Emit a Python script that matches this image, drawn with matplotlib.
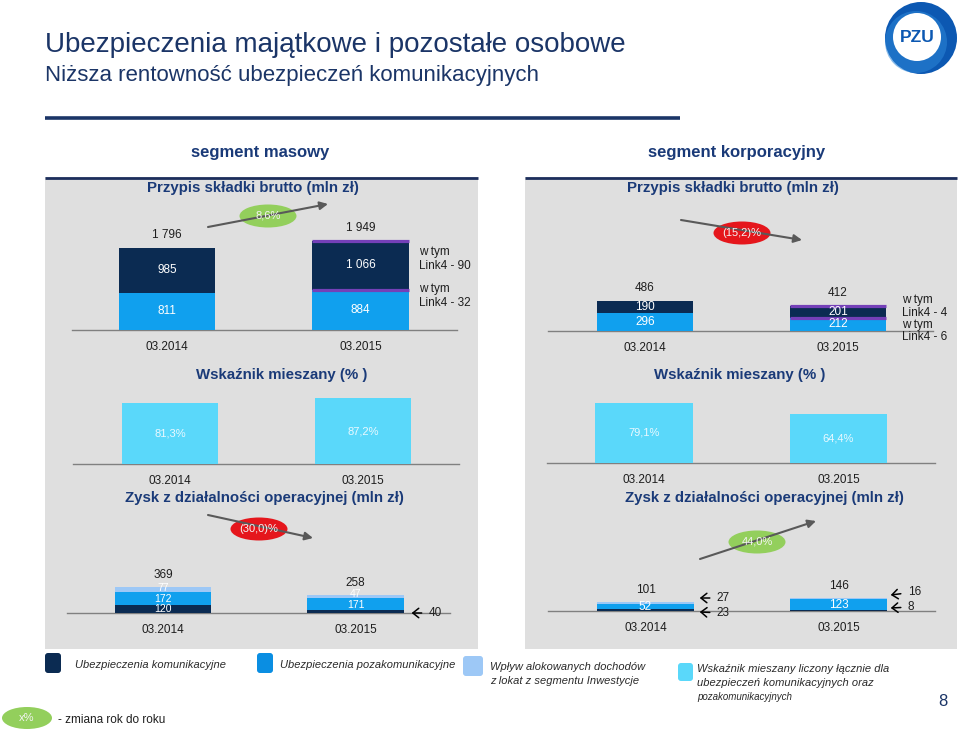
import numpy as np
import matplotlib
matplotlib.use('Agg')
from matplotlib import pyplot as plt
from matplotlib.patches import Rectangle, Ellipse, Circle, FancyBboxPatch

plt.rcParams['font.family'] = ['Liberation Sans', 'DejaVu Sans']

W, H = 960, 732

# ---- data (mln zł / %) ----
okresy = ['03.2014', '03.2015']

mas_przypis_kom = [985, 1066]
mas_przypis_poza = [811, 884]
mas_przypis_suma = [1796, 1949]
mas_link4 = [90, 32]            # 03.2015: komunikacyjne, pozakomunikacyjne
mas_wskaznik = [81.3, 87.2]
mas_zysk_kom = [120, 40]
mas_zysk_poza = [172, 171]
mas_zysk_lokaty = [77, 47]
mas_zysk_suma = [369, 258]

kor_przypis_kom = [190, 201]
kor_przypis_poza = [296, 212]
kor_przypis_suma = [486, 412]
kor_link4 = [4, 6]
kor_wskaznik = [79.1, 64.4]
kor_zysk_kom = [23, 8]
kor_zysk_poza = [52, 123]
kor_zysk_lokaty = [27, 16]
kor_zysk_suma = [101, 146]

# zmiana r/r: przypis masowy, przypis korporacyjny, zysk masowy, zysk korporacyjny
zmiany = ['8,6%', '(15,2)%', '(30,0)%', '44,0%']

# ---- colours ----
C_KOM = '#0B2B52'
C_POZA = '#10A0EE'
C_LOK = '#9DC8F6'
C_WSK = '#5AD8FA'
C_LINK = '#7440B8'
C_PANEL = '#DFDFDF'
C_NAVY = '#1B3567'
C_HEAD = '#1A3A78'
C_TXT = '#1E1E1E'
C_BASE = '#808080'
C_GREEN = '#93CF5C'
C_RED = '#E5161C'

BAR_W = 0.5


def num(v):
    return f"{v:,}".replace(',', ' ')


def pct(v):
    return f"{v:.1f}%".replace('.', ',')


fig = plt.figure(figsize=(9.6, 7.32), dpi=100)

# background / decoration layer in pixel coordinates
bg = fig.add_axes([0, 0, 1, 1])
bg.set_xlim(0, W)
bg.set_ylim(H, 0)
bg.axis('off')

bg.text(45, 45, 'Ubezpieczenia majątkowe i pozostałe osobowe', fontsize=20,
        color=C_NAVY, va='center', ha='left')
bg.text(45, 76, 'Niższa rentowność ubezpieczeń komunikacyjnych', fontsize=16,
        color=C_NAVY, va='center', ha='left')
bg.plot([45, 680], [118, 118], color=C_NAVY, lw=2.6, solid_capstyle='butt')

# logo
bg.add_patch(Circle((921, 38), 36, fc='#0C58B2', ec='none'))
bg.add_patch(Circle((916, 42), 31, fc='#2C86D8', ec='none', alpha=0.55))
bg.add_patch(Circle((917, 37), 24, fc='white', ec='none'))
bg.text(917, 38, 'PZU', fontsize=12.5, fontweight='bold', color='#0C58B2',
        ha='center', va='center')

# panels
for x0, x1, cx, name in [(45, 478, 260, 'segment masowy'),
                         (525, 957, 737, 'segment korporacyjny')]:
    bg.add_patch(Rectangle((x0, 177), x1 - x0, 472, fc=C_PANEL, ec='none'))
    bg.plot([x0, x1], [177.5, 177.5], color='#1C2E5C', lw=2, solid_capstyle='butt')
    bg.text(cx, 153, name, fontsize=12, fontweight='bold', color=C_HEAD,
            ha='center', va='center')

titles = [(253, 188, 'Przypis składki brutto (mln zł)'),
          (733, 188, 'Przypis składki brutto (mln zł)'),
          (282, 375, 'Wskaźnik mieszany (% )'),
          (740, 375, 'Wskaźnik mieszany (% )'),
          (264, 498, 'Zysk z działalności operacyjnej (mln zł)'),
          (764, 498, 'Zysk z działalności operacyjnej (mln zł)')]
for x, y, t in titles:
    bg.text(x, y, t, fontsize=10.8, fontweight='bold', color=C_HEAD,
            ha='center', va='center')

# year-over-year arrows with bubbles
bubbles = [((208, 227), (328, 204), (268, 216), C_GREEN, zmiany[0]),
           ((681, 220), (802, 240), (742, 233), C_RED, zmiany[1]),
           ((208, 515), (313, 538), (259, 529), C_RED, zmiany[2]),
           ((700, 559), (816, 521), (757, 542), C_GREEN, zmiany[3])]
for start, end, c, col, txt in bubbles:
    bg.annotate('', xy=end, xytext=start,
                arrowprops=dict(arrowstyle='-|>', color='#595959', lw=1.5,
                                mutation_scale=12, shrinkA=0, shrinkB=0))
    bg.add_patch(Ellipse(c, 57, 23, fc=col, ec='none'))
    bg.text(c[0], c[1], txt, fontsize=8, color='#F4F4F4', ha='center', va='center')

# legend
legend_items = [((45, 653, 16, 20), C_KOM, (75, 665), ['Ubezpieczenia komunikacyjne']),
                ((257, 653, 16, 20), '#0A8EE2', (280, 665), ['Ubezpieczenia pozakomunikacyjne']),
                ((463, 656, 20, 20), C_LOK, (490, 667), ['Wpływ alokowanych dochodów',
                                                         'z lokat z segmentu Inwestycje']),
                ((678, 663, 15, 18), C_WSK, (697, 669), ['Wskaźnik mieszany liczony łącznie dla',
                                                         'ubezpieczeń komunikacyjnych oraz',
                                                         'pozakomunikacyjnych'])]
for (x, y, w, h), col, (tx, ty), lines in legend_items:
    bg.add_patch(FancyBboxPatch((x, y), w, h, boxstyle='round,pad=0,rounding_size=3',
                                fc=col, ec='none'))
    for k, line in enumerate(lines):
        bg.text(tx, ty + 14 * k, line, fontsize=7 if k == 2 else 8, style='italic',
                color='#2A2A2A', ha='left', va='center')

bg.add_patch(Ellipse((27, 718), 50, 22, fc=C_GREEN, ec='none'))
bg.text(27, 718, 'x%', fontsize=8, color='#F4F4F4', ha='center', va='center')
bg.text(58, 720, '- zmiana rok do roku', fontsize=8.5, color=C_TXT, ha='left', va='center')
bg.text(943, 701, '8', fontsize=12, color=C_NAVY, ha='center', va='center')


def chart_ax(left, right, base, top, c0, c1, yscale):
    ax = fig.add_axes([left / W, (H - base) / H, (right - left) / W, (base - top) / H])
    ax.set_xlim((left - c0) / (c1 - c0), (right - c0) / (c1 - c0))
    ax.set_ylim(0, (base - top) / yscale)
    ax.axis('off')
    ax.axhline(0, color=C_BASE, lw=1.0, clip_on=False, zorder=0)
    ax.ys = yscale          # px per unit
    ax.xs = c1 - c0         # px per category step
    for i, lab in enumerate(okresy):
        ax.text(i, -17 / yscale, lab, fontsize=8.5, color=C_TXT, ha='center', va='center')
    return ax


def stack(ax, segs, colors):
    bottoms = np.zeros(len(okresy))
    for vals, col in zip(segs, colors):
        ax.bar(range(len(okresy)), vals, BAR_W, bottom=bottoms, color=col, linewidth=0)
        bottoms = bottoms + np.array(vals)
    return bottoms


def arrow_label(ax, i, y, txt, dy_arrow, dy_text, gap=5):
    # pixel offsets: positive = up
    x_tip = i + BAR_W / 2 + gap / ax.xs
    ax.annotate(txt, xy=(x_tip, y + dy_arrow / ax.ys),
                xytext=(x_tip + 17 / ax.xs, y + dy_text / ax.ys),
                fontsize=8.5, color=C_TXT, ha='left', va='center',
                annotation_clip=False,
                arrowprops=dict(arrowstyle='->,head_length=0.5,head_width=0.4',
                                color='black', lw=1.1, shrinkA=3, shrinkB=0))


# ---- segment masowy: przypis ----
ax = chart_ax(72, 457, 330, 200, 167, 360.5, 82 / 1796)
stack(ax, [mas_przypis_poza, mas_przypis_kom], [C_POZA, C_KOM])
for i in range(2):
    ax.text(i, mas_przypis_suma[i] + 13 / ax.ys, num(mas_przypis_suma[i]),
            fontsize=8.5, color=C_TXT, ha='center', va='center')
    ax.text(i, mas_przypis_poza[i] / 2, num(mas_przypis_poza[i]),
            fontsize=8.5, color='white', ha='center', va='center')
    ax.text(i, mas_przypis_poza[i] + mas_przypis_kom[i] / 2, num(mas_przypis_kom[i]),
            fontsize=8.5, color='white', ha='center', va='center')
tops = [mas_przypis_poza[1] + mas_przypis_kom[1], mas_przypis_poza[1]]
ax.hlines(tops, 1 - BAR_W / 2, 1 + BAR_W / 2, color=C_LINK, lw=2.3)
xt = 1 + BAR_W / 2 + 10 / ax.xs
ax.text(xt, tops[0] - 18 / ax.ys, f'w tym\nLink4 - {mas_link4[0]}', fontsize=8.5,
        color=C_TXT, ha='left', va='center', linespacing=1.25)
ax.text(xt, tops[1] - 6 / ax.ys, f'w tym\nLink4 - {mas_link4[1]}', fontsize=8.5,
        color=C_TXT, ha='left', va='center', linespacing=1.25)

# ---- segment korporacyjny: przypis ----
ax = chart_ax(548, 933, 331, 230, 645, 838, 30 / 486)
stack(ax, [kor_przypis_poza, kor_przypis_kom], [C_POZA, C_KOM])
for i in range(2):
    ax.text(i, kor_przypis_suma[i] + 13 / ax.ys, num(kor_przypis_suma[i]),
            fontsize=8.5, color=C_TXT, ha='center', va='center')
    ax.text(i, kor_przypis_poza[i] / 2, num(kor_przypis_poza[i]),
            fontsize=8.5, color='white', ha='center', va='center')
    ax.text(i, kor_przypis_poza[i] + kor_przypis_kom[i] / 2, num(kor_przypis_kom[i]),
            fontsize=8.5, color='white', ha='center', va='center')
tops = [kor_przypis_poza[1] + kor_przypis_kom[1], kor_przypis_poza[1]]
ax.hlines(tops, 1 - BAR_W / 2, 1 + BAR_W / 2, color=C_LINK, lw=2.3)
xt = 1 + BAR_W / 2 + 16 / ax.xs
ax.text(xt, tops[0] - 1 / ax.ys, f'w tym\nLink4 - {kor_link4[0]}', fontsize=8.5,
        color=C_TXT, ha='left', va='center', linespacing=1.05)
ax.text(xt, tops[1] - 13 / ax.ys, f'w tym\nLink4 - {kor_link4[1]}', fontsize=8.5,
        color=C_TXT, ha='left', va='center', linespacing=1.05)

# ---- wskaznik mieszany ----
for vals, box in [(mas_wskaznik, (73, 459, 464, 390, 170, 363, 0.752)),
                  (kor_wskaznik, (547, 935, 463, 390, 644, 838.5, 0.76))]:
    ax = chart_ax(*box)
    ax.bar(range(2), vals, BAR_W, color=C_WSK, linewidth=0)
    for i, v in enumerate(vals):
        ax.text(i, v / 2, pct(v), fontsize=8, color='#EAF9FF', ha='center', va='center')

# ---- segment masowy: zysk ----
ax = chart_ax(67, 450, 613, 560, 163, 355.5, 0.0705)
stack(ax, [mas_zysk_kom, mas_zysk_poza, mas_zysk_lokaty], [C_KOM, C_POZA, C_LOK])
for i in range(2):
    ax.text(i, mas_zysk_suma[i] + 12 / ax.ys, num(mas_zysk_suma[i]),
            fontsize=8.5, color=C_TXT, ha='center', va='center')
    b = mas_zysk_kom[i]
    ax.text(i, b + mas_zysk_poza[i] / 2 - 1 / ax.ys, num(mas_zysk_poza[i]),
            fontsize=7.5, color='white', ha='center', va='center')
    b += mas_zysk_poza[i]
    ax.text(i, b + mas_zysk_lokaty[i] / 2 + 2 / ax.ys, num(mas_zysk_lokaty[i]),
            fontsize=7.5, color='white', ha='center', va='center')
ax.text(0, mas_zysk_kom[0] / 2, num(mas_zysk_kom[0]),
        fontsize=7.5, color='white', ha='center', va='center')
arrow_label(ax, 1, 0, num(mas_zysk_kom[1]), 0, 0, gap=8)

# ---- segment korporacyjny: zysk ----
ax = chart_ax(548, 935, 611, 560, 645.5, 838.5, 0.089)
stack(ax, [kor_zysk_kom, kor_zysk_poza, kor_zysk_lokaty], [C_KOM, C_POZA, C_LOK])
for i in range(2):
    ax.text(i, kor_zysk_suma[i] + 12 / ax.ys, num(kor_zysk_suma[i]),
            fontsize=8.5, color=C_TXT, ha='center', va='center')
    ax.text(i, kor_zysk_kom[i] + kor_zysk_poza[i] / 2, num(kor_zysk_poza[i]),
            fontsize=8.5, color='white', ha='center', va='center')
arrow_label(ax, 0, kor_zysk_suma[0], num(kor_zysk_lokaty[0]), 4, 4, gap=6)
arrow_label(ax, 0, 0, num(kor_zysk_kom[0]), -1, -2, gap=6)
arrow_label(ax, 1, kor_zysk_suma[1], num(kor_zysk_lokaty[1]), 3, 6, gap=4)
arrow_label(ax, 1, 0, num(kor_zysk_kom[1]), 3, 4, gap=4)

fig.savefig('out.png', dpi=100)
